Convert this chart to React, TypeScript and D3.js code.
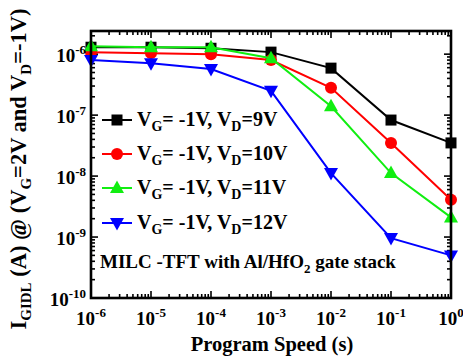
import React from 'react';
import * as d3 from 'd3';

// Data
const speeds = [1e-6, 1e-5, 1e-4, 1e-3, 1e-2, 1e-1, 1];
const vd9 = [1.3e-6, 1.3e-6, 1.25e-6, 1.08e-6, 5.9e-7, 8.3e-8, 3.5e-8];
const vd10 = [1.08e-6, 1.04e-6, 1.0e-6, 8.0e-7, 2.8e-7, 3.5e-8, 4.1e-9];
const vd11 = [1.35e-6, 1.3e-6, 1.3e-6, 8.6e-7, 1.4e-7, 1.12e-8, 2.1e-9];
const vd12 = [8.0e-7, 7.1e-7, 5.7e-7, 2.5e-7, 1.12e-8, 9.6e-10, 5.0e-10];
const legendVd = ['9V', '10V', '11V', '12V'];
const xTickExps = [-6, -5, -4, -3, -2, -1, 0];
const yTickExps = [-6, -7, -8, -9, -10];

const W = 463, H = 362;
const L = 91, R = 451, T = 31, B = 298;
const FONT = "'Liberation Serif', 'DejaVu Serif', serif";

const x = d3.scaleLog().domain([1e-6, 1]).range([L, R]);
const y = d3.scaleLog().domain([1e-10, Math.pow(10, -5.62)]).range([B, T]);

type Shape = 'square' | 'circle' | 'up' | 'down';
const series: { vals: number[]; color: string; shape: Shape; vd: string }[] = [
  { vals: vd9, color: '#000000', shape: 'square', vd: legendVd[0] },
  { vals: vd10, color: '#ff0000', shape: 'circle', vd: legendVd[1] },
  { vals: vd11, color: '#11ee11', shape: 'up', vd: legendVd[2] },
  { vals: vd12, color: '#0000ff', shape: 'down', vd: legendVd[3] },
];
const drawOrder = [0, 1, 3, 2];

function Marker({ cx, cy, shape, color }: { cx: number; cy: number; shape: Shape; color: string }) {
  if (shape === 'square') return <rect x={cx - 5.5} y={cy - 5.5} width={11} height={11} fill={color} />;
  if (shape === 'circle') return <circle cx={cx} cy={cy} r={6} fill={color} />;
  if (shape === 'up')
    return <path d={`M${cx},${cy - 7.5}L${cx + 7},${cy + 5}L${cx - 7},${cy + 5}Z`} fill={color} />;
  return <path d={`M${cx},${cy + 7.5}L${cx + 7},${cy - 5}L${cx - 7},${cy - 5}Z`} fill={color} />;
}

export default function App() {
  const line = d3
    .line<number>()
    .x((_, i) => x(speeds[i]))
    .y((v) => y(v));

  const xMinor: number[] = [];
  for (let e = -6; e < 0; e++) for (let k = 2; k <= 9; k++) xMinor.push(k * Math.pow(10, e));
  const yMinor: number[] = [];
  const yMax = y.domain()[1];
  for (let e = -10; e <= -6; e++)
    for (let k = 2; k <= 9; k++) {
      const v = k * Math.pow(10, e);
      if (v <= yMax) yMinor.push(v);
    }

  const legendY = [120, 154, 188, 223];
  const txt = { fontFamily: FONT, fontWeight: 700 as const };

  return (
    <svg width={W} height={H} style={{ position: 'absolute', left: 0, top: 0 }}>
      <rect width={W} height={H} fill="#fff" />
      {/* ticks */}
      <g stroke="#000" strokeWidth={1.6}>
        {xTickExps.map((e) => {
          const px = x(Math.pow(10, e));
          return (
            <g key={'xm' + e}>
              <line x1={px} x2={px} y1={B} y2={B - 7} />
              <line x1={px} x2={px} y1={T} y2={T + 7} />
            </g>
          );
        })}
        {xMinor.map((v, i) => {
          const px = x(v);
          return (
            <g key={'xn' + i}>
              <line x1={px} x2={px} y1={B} y2={B - 4} />
              <line x1={px} x2={px} y1={T} y2={T + 4} />
            </g>
          );
        })}
        {yTickExps.map((e) => {
          const py = y(Math.pow(10, e));
          return (
            <g key={'ym' + e}>
              <line x1={L} x2={L + 7} y1={py} y2={py} />
              <line x1={R} x2={R - 7} y1={py} y2={py} />
            </g>
          );
        })}
        {yMinor.map((v, i) => {
          const py = y(v);
          return (
            <g key={'yn' + i}>
              <line x1={L} x2={L + 4} y1={py} y2={py} />
              <line x1={R} x2={R - 4} y1={py} y2={py} />
            </g>
          );
        })}
      </g>
      {/* series */}
      {drawOrder.map((si) => {
        const s = series[si];
        return (
          <g key={'s' + si}>
            <path d={line(s.vals) || ''} fill="none" stroke={s.color} strokeWidth={2} />
            {s.vals.map((v, i) => (
              <Marker key={i} cx={x(speeds[i])} cy={y(v)} shape={s.shape} color={s.color} />
            ))}
          </g>
        );
      })}
      {/* frame */}
      <rect x={L} y={T} width={R - L} height={B - T} fill="none" stroke="#000" strokeWidth={2.6} />
      {/* x tick labels */}
      {xTickExps.map((e) => (
        <text key={'xl' + e} style={txt} x={x(Math.pow(10, e))} y={325} textAnchor="middle" fontSize={19}>
          10<tspan fontSize={13} dy={-8}>{e}</tspan>
        </text>
      ))}
      {/* y tick labels */}
      {yTickExps.map((e) => (
        <text key={'yl' + e} style={txt} x={86} y={y(Math.pow(10, e)) + 8} textAnchor="end" fontSize={19}>
          10<tspan fontSize={13} dy={-8}>{e}</tspan>
        </text>
      ))}
      {/* axis titles */}
      <text style={txt} x={272} y={351} textAnchor="middle" fontSize={20.5}>
        Program Speed (s)
      </text>
      <text style={txt} transform={`translate(26,${169}) rotate(-90)`} textAnchor="middle" fontSize={22.5}>
        I<tspan fontSize={15} dy={5}>GIDL</tspan>
        <tspan dy={-5}> (A) @ (V</tspan>
        <tspan fontSize={15} dy={5}>G</tspan>
        <tspan dy={-5}>=2V and V</tspan>
        <tspan fontSize={15} dy={5}>D</tspan>
        <tspan dy={-5}>=-1V)</tspan>
      </text>
      {/* legend */}
      {series.map((s, i) => (
        <g key={'lg' + i}>
          <line x1={102} x2={132} y1={legendY[i]} y2={legendY[i]} stroke={s.color} strokeWidth={2} />
          <Marker cx={117} cy={legendY[i]} shape={s.shape} color={s.color} />
          <text style={txt} x={137} y={legendY[i] + 6} fontSize={20}>
            V<tspan fontSize={14} dy={5}>G</tspan>
            <tspan dy={-5}>= -1V, V</tspan>
            <tspan fontSize={14} dy={5}>D</tspan>
            <tspan dy={-5}>={s.vd}</tspan>
          </text>
        </g>
      ))}
      <text style={txt} x={100} y={268} fontSize={19}>
        MILC -TFT with Al/HfO<tspan fontSize={13} dy={5}>2</tspan>
        <tspan dy={-5}> gate stack</tspan>
      </text>
    </svg>
  );
}
